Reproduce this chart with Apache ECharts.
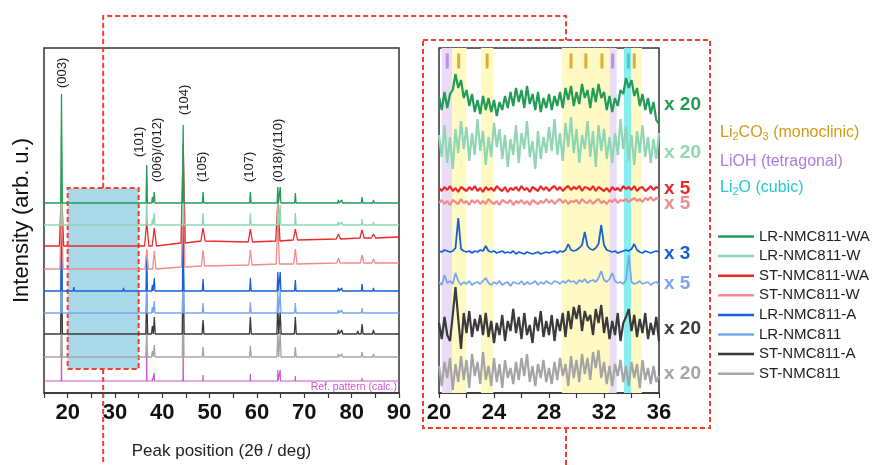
<!DOCTYPE html>
<html>
<head>
<meta charset="utf-8">
<script src="https://cdn.jsdelivr.net/npm/echarts@6/dist/echarts.min.js"></script>
<style>
  html, body { margin: 0; padding: 0; background: #fff; }
  #chart { width: 876px; height: 465px; }
</style>
</head>
<body>
<div id="chart"></div>
<script>
(function () {
  const FONT = '"Liberation Sans", Arial, sans-serif';

  // ---- full pattern (left panel) ----
  const peakPos = [18.7, 21.3, 30.6, 31.8, 33.7, 36.7, 37.9, 38.3, 44.4, 48.6, 58.6, 64.4, 64.9, 68.1, 77.2, 77.9, 81.3, 82.2, 84.6];

  const sampleNames = ['LR-NMC811-WA', 'LR-NMC811-W', 'ST-NMC811-WA', 'ST-NMC811-W',
    'LR-NMC811-A', 'LR-NMC811', 'ST-NMC811-A', 'ST-NMC811'];
  const sampleColors = ['#229c57', '#8fd6b4', '#ea2a2a', '#f28b8b',
    '#1760d8', '#78a6f0', '#3a3a3a', '#a5a5a5'];
  const refColor = '#cc55cc';

  const fullBase = [190, 168, 147, 124, 102, 80, 59, 36];
  const refBase = 12;
  const peakHalfWidth = [0.15, 0.15, 0.45, 0.35, 0.15, 0.15, 0.2, 0.18];

  const hGreenWA = [109, null, null, null, null, 38, 6, 11, 78, 11, 11, 16, 16, 10, 3, 3, 2, 6, 3];
  const hGreenW = [90, null, null, null, null, 30, 6, 12, 80, 12, 12, 22, 20, 12, 3, 3, 2, 6, 3];
  const hRedWA = [60, null, null, null, null, 24, null, 18, 99, 13, 13, 40, null, 11, 5, null, null, 8, 4];
  const hRedW = [60, null, null, null, null, 20, null, 18, 90, 16, 15, 40, null, 15, 5, null, null, 8, 4];
  const hBlueA = [70, 4, 2, 3, null, 40, 6, 13, 80, 12, 13, 19, 19, 11, 3, 3, 2, 7, 3];
  const hBlue = [60, null, null, null, 2, 30, 6, 12, 70, 10, 11, 22, 22, 10, 3, 3, 2, 5, 2];
  const hGreyA = [70, null, null, null, null, 40, 8, 17, 80, 14, 17, 30, 22, 17, 4, 4, 3, 10, 4];
  const hGrey = [60, null, null, null, null, 30, 6, 12, 70, 10, 11, 25, 25, 10, 3, 3, 2, 5, 3];
  const hRef = [40, null, null, null, null, 30, 3, 8, 40, 6, 7, 11, 11, 5, 1.5, 1.5, 1, 3, 1];
  const fullHeights = [hGreenWA, hGreenW, hRedWA, hRedW, hBlueA, hBlue, hGreyA, hGrey];

  // baseline at 15°, at each peak, at 90° (only the drifting ones)
  const baseRedWA = [147, 147, 147, 147, 147, 147, 147, 147, 147, 150, 152, 151, 152, 152, 153, 154, 154, 155, 155, 155, 156];
  const baseRedW = [124, 124, 124, 124, 124, 124, 124, 124, 124, 126, 127, 128, 129, 129, 129, 130, 130, 130, 130, 130, 130];
  const fullDrift = [null, null, baseRedWA, baseRedW, null, null, null, null];

  const hklText = ['(003)', '(101)', '(006)/(012)', '(104)', '(105)', '(107)', '(018)/(110)'];
  const hklX = [18.9, 35.2, 39.0, 44.7, 48.5, 58.5, 64.6];
  const hklY = [305, 236, 211, 278, 211, 211, 211];

  // ---- zoomed region (right panel), 20..36° every 0.2° ----
  const zoomCenter = [291, 250, 204, 191, 141, 110, 66, 21];
  const zoomLabelLevel = [289, 241, 205, 190, 140, 110, 65, 20];
  const zoomMult = ['x 20', 'x 20', 'x 5', 'x 5', 'x 3', 'x 5', 'x 20', 'x 20'];

  const zGreenWA = [
    5, -8, 10, -6, 8, 12, 28, 14, 22, 4,
    12, -4, 8, -10, 2, -12, 6, -8, 4, -10,
    2, -14, 0, -8, 6, -6, 10, -4, 14, 0,
    12, -6, 16, -2, 8, -8, 10, -10, 4, -6,
    8, -8, 6, -4, 10, -6, 14, 2, 16, -4,
    10, -2, 18, 4, 12, -6, 14, 0, 18, 4,
    10, -8, 6, -10, 4, -4, 12, 8, 24, 14,
    22, 6, 14, -4, 8, -8, 4, -12, 0, -18,
    -22];
  const zGreenW = [
    8, -14, 18, -20, 6, -26, 14, -10, 22, -6,
    16, -18, 10, -12, 24, -8, 12, -22, 6, -14,
    20, -4, 14, -16, 8, -24, 4, -12, 18, -20,
    10, -6, 22, -14, 2, -26, 12, -16, 6, -10,
    16, -8, 24, -12, 10, -18, 20, -4, 26, -10,
    14, -20, 8, -6, 22, -14, 12, -24, 18, -8,
    14, -16, 6, -20, 10, -12, 24, -6, 16, -18,
    8, -22, 12, -10, 18, -14, 6, -20, 4, -16,
    10];
  const zRedWA = [
    1, -2, 2, -1, 3, -2, 1, -3, 2, 0,
    -2, 2, -1, 3, -2, 1, -3, 2, -1, 1,
    -2, 3, 0, -2, 2, -3, 1, -1, 2, -2,
    3, -1, 1, -3, 2, 0, -2, 3, -1, 2,
    -2, 1, 3, -1, 2, -2, 1, 3, -1, 2,
    0, 3, -2, 2, 1, -1, 3, -2, 2, 0,
    -2, 1, -3, 2, -1, 1, -2, 3, 0, 2,
    -1, 3, -2, 1, 2, -2, 0, 3, -1, 2,
    1];
  const zRedW = [
    -1, 2, -2, 1, -3, 2, 0, -2, 3, -1,
    1, -3, 2, -1, 2, -2, 1, -2, 3, 0,
    -2, 1, -3, 2, 0, -1, 2, -3, 1, -1,
    2, -2, 1, -3, 2, 0, -2, 1, -1, 3,
    -1, 2, -2, 1, 3, -1, 2, -2, 1, 0,
    2, -2, 3, 0, -1, 2, -2, 1, 3, -1,
    1, -2, 2, 0, 3, -1, 2, 1, 3, 0,
    2, 4, 1, 3, 0, 4, 2, 5, 1, 4,
    3];
  const zBlueA = [
    1, 0, 2, 1, 0, 1, 4, 34, 3, 1,
    0, 1, -1, 1, 0, 2, 1, 6, 1, 0,
    1, -1, 0, 1, -1, 0, -1, 1, -2, 0,
    -1, -2, 0, -1, -2, -1, 0, -2, -1, 0,
    -1, 0, 1, -1, 1, 0, 2, 8, 2, 1,
    2, 4, 7, 20, 6, 3, 2, 4, 8, 27,
    7, 2, 1, 0, 1, -1, 0, 1, 2, 1,
    3, 8, 2, 0, -1, 1, 0, -1, 0, 1,
    0];
  const zBlue = [
    1, -2, 8, 0, 2, -1, 10, 2, -2, 1,
    -1, 2, -2, 0, 1, -1, 2, 5, 0, -2,
    1, -1, 2, -2, 0, 1, -3, 1, 0, -1,
    2, -2, 1, -1, 0, 2, -2, 1, -1, 2,
    0, -1, 2, 1, -1, 2, 0, 3, 1, 2,
    -1, 3, 1, 4, 0, 2, 3, 1, 5, 12,
    3, 1, 4, 10, 2, 0, 1, -1, 3, 28,
    1, -1, 0, 2, -1, 0, 1, -2, 0, 1,
    -1];
  const zGreyA = [
    4, -12, 10, -8, -14, 12, 40, 8, -22, 14,
    -6, 16, -10, 8, -4, 12, -8, 14, -10, 6,
    -16, 4, -8, 12, -14, 6, -4, 18, -6, 10,
    -12, 14, -8, 2, -16, 10, -4, 16, -10, 6,
    -8, 12, -14, 8, -4, 14, -10, 16, -2, 20,
    8, 22, -4, 16, 6, 12, -8, 18, 4, 22,
    -6, 10, -12, 6, -8, 14, -14, 4, 10, 18,
    -4, 12, -10, 8, -6, 14, -12, 4, -8, 10,
    -14];
  const zGrey = [
    6, -14, 10, -6, 14, -18, 8, -10, 16, -8,
    12, -16, 18, -4, 10, -12, 20, -8, 6, -14,
    14, -10, 8, -16, 12, -6, 4, -12, 10, -8,
    14, -4, 18, -10, 6, -14, 8, -6, 12, -10,
    4, -12, 10, -8, 14, -4, 8, -14, 16, -6,
    12, -10, 18, -2, 14, -8, 20, 4, 22, -6,
    10, -12, 6, -14, 8, -4, 12, -10, 6, -14,
    10, -6, 8, -16, 12, -8, 4, -12, 6, -10,
    -4];
  const zoomTraces = [zGreenWA, zGreenW, zRedWA, zRedW, zBlueA, zBlue, zGreyA, zGrey];
  const zoomWidth = [2.2, 2.2, 2.2, 2.2, 1.8, 1.8, 2.2, 2.2];

  // reference phase positions and shaded windows
  const li2co3Pos = [21.43, 23.5, 29.6, 30.68, 31.85, 34.2];
  const liohPos = [20.6, 32.63];
  const li2oPos = [33.77];
  const li2co3Bands = [[20.95, 22.0], [23.05, 23.95], [28.95, 32.4], [33.96, 34.76]];
  const liohBands = [[20.2, 20.95], [32.4, 32.92]];
  const li2oBands = [[33.45, 33.96]];
  const phaseTickLevel = 332;

  const CO3 = '#d49a12';
  const OH = '#b07ae0';
  const O2 = '#22c8d2';

  function buildPattern(base, heights, halfWidth, drift) {
    const pts = [[15, drift ? drift[0] : base]];
    peakPos.forEach((p, i) => {
      const h = heights[i];
      if (h == null) return;
      const b = drift ? drift[i + 1] : base;
      pts.push([p - halfWidth, b], [p, b + h], [p + halfWidth, b]);
    });
    pts.push([90, drift ? drift[drift.length - 1] : base]);
    return pts;
  }

  const chart = echarts.init(document.getElementById('chart'), null, { renderer: 'canvas' });

  const series = [];
  sampleNames.forEach((name, k) => {
    series.push({
      type: 'line',
      name: name,
      xAxisIndex: 0,
      yAxisIndex: 0,
      data: buildPattern(fullBase[k], fullHeights[k], peakHalfWidth[k], fullDrift[k]),
      symbol: 'none',
      z: 10 - k,
      lineStyle: { color: sampleColors[k], width: 1.3 },
      itemStyle: { color: sampleColors[k] },
      animation: false,
    });
  });
  series.push({
    type: 'line',
    name: 'Ref',
    xAxisIndex: 0,
    yAxisIndex: 0,
    data: buildPattern(refBase, hRef, 0.04, null),
    symbol: 'none',
    z: 2,
    lineStyle: { color: refColor, width: 1.2 },
    animation: false,
    markArea: {
      silent: true,
      z: 1,
      itemStyle: {
        color: '#a9d8e9',
        borderColor: '#f2402a',
        borderWidth: 2,
        borderType: [5, 3],
      },
      data: [[{ xAxis: 20, yAxis: 24 }, { xAxis: 35, yAxis: 205 }]],
    },
  });

  // shaded windows in zoom panel
  const bandData = [];
  li2co3Bands.forEach((b) => bandData.push([{ xAxis: b[0], itemStyle: { color: '#fffac4' } }, { xAxis: b[1] }]));
  liohBands.forEach((b) => bandData.push([{ xAxis: b[0], itemStyle: { color: '#e9dcf5' } }, { xAxis: b[1] }]));
  li2oBands.forEach((b) => bandData.push([{ xAxis: b[0], itemStyle: { color: '#86efee' } }, { xAxis: b[1] }]));
  series.push({
    type: 'line',
    name: 'bands',
    xAxisIndex: 1,
    yAxisIndex: 1,
    data: [],
    z: 1,
    markArea: { silent: true, data: bandData },
  });

  sampleNames.forEach((name, k) => {
    const trace = zoomTraces[k];
    series.push({
      type: 'line',
      name: name,
      xAxisIndex: 1,
      yAxisIndex: 1,
      data: trace.map((v, i) => [20 + i * 0.2, zoomCenter[k] + v]),
      symbol: 'none',
      z: 10 - k,
      lineStyle: { color: sampleColors[k], width: zoomWidth[k] },
      itemStyle: { color: sampleColors[k] },
      animation: false,
    });
  });

  function phaseTicks(positions, color) {
    return {
      type: 'scatter',
      xAxisIndex: 1,
      yAxisIndex: 1,
      data: positions.map((p) => [p, phaseTickLevel]),
      symbol: 'rect',
      symbolSize: [3, 15],
      itemStyle: { color: color },
      z: 12,
      silent: true,
      animation: false,
    };
  }
  series.push(phaseTicks(li2co3Pos, CO3), phaseTicks(liohPos, OH), phaseTicks(li2oPos, O2));

  const axisLabelStyle = {
    color: '#111',
    fontSize: 22,
    fontWeight: 'bold',
    fontFamily: FONT,
    margin: 9,
  };

  const option = {
    animation: false,
    backgroundColor: '#fff',
    grid: [
      { left: 44, top: 48, width: 355, height: 345, show: true, borderColor: '#333', borderWidth: 1.5, backgroundColor: 'transparent' },
      { left: 439, top: 48, width: 220, height: 345, show: true, borderColor: '#333', borderWidth: 1.5, backgroundColor: 'transparent' },
    ],
    xAxis: [
      {
        type: 'value',
        gridIndex: 0,
        min: 15,
        max: 90,
        interval: 5,
        axisLine: { lineStyle: { color: '#333', width: 1.5 } },
        axisTick: { length: 5, lineStyle: { color: '#333', width: 1.2 } },
        axisLabel: Object.assign({}, axisLabelStyle, {
          formatter: (v) => (v % 10 === 0 ? String(v) : ''),
        }),
        splitLine: { show: false },
        name: 'Peak position (2\u03B8 / deg)',
        nameLocation: 'middle',
        nameGap: 50,
        nameTextStyle: { fontSize: 17, color: '#222', fontFamily: FONT },
      },
      {
        type: 'value',
        gridIndex: 1,
        min: 20,
        max: 36,
        interval: 2,
        axisLine: { lineStyle: { color: '#333', width: 1.5 } },
        axisTick: { length: 5, lineStyle: { color: '#333', width: 1.2 } },
        axisLabel: Object.assign({}, axisLabelStyle, {
          formatter: (v) => (v % 4 === 0 ? String(v) : ''),
        }),
        splitLine: { show: false },
      },
    ],
    yAxis: [
      {
        type: 'value',
        gridIndex: 0,
        min: 0,
        max: 345,
        axisLine: { show: false },
        axisTick: { show: false },
        axisLabel: { show: false },
        splitLine: { show: false },
        name: 'Intensity (arb. u.)',
        nameLocation: 'middle',
        nameGap: 11,
        nameTextStyle: { fontSize: 22, color: '#111', fontFamily: FONT },
      },
      {
        type: 'value',
        gridIndex: 1,
        min: 0,
        max: 345,
        axisLine: { show: false },
        axisTick: { show: false },
        axisLabel: { show: false },
        splitLine: { show: false },
      },
    ],
    legend: {
      data: sampleNames,
      orient: 'vertical',
      left: 713,
      top: 224,
      icon: 'rect',
      itemWidth: 36,
      itemHeight: 2.5,
      itemGap: 4.6,
      textStyle: { fontSize: 15, color: '#222', fontFamily: FONT, padding: [1, 0, 0, 0] },
      selectedMode: false,
    },
    series: series,
  };

  chart.setOption(option);

  // annotations placed through the axes
  const graphics = [];
  hklText.forEach((t, i) => {
    const p = chart.convertToPixel({ gridIndex: 0 }, [hklX[i], hklY[i]]);
    graphics.push({
      type: 'text',
      x: p[0],
      y: p[1],
      rotation: Math.PI / 2,
      style: {
        text: t,
        fill: '#222',
        font: '13px ' + FONT,
        textAlign: 'left',
        textVerticalAlign: 'middle',
      },
    });
  });

  zoomMult.forEach((t, k) => {
    const p = chart.convertToPixel({ gridIndex: 1 }, [36, zoomLabelLevel[k]]);
    graphics.push({
      type: 'text',
      x: p[0] + 5,
      y: p[1] + 1,
      style: {
        text: t,
        fill: sampleColors[k],
        font: 'bold 19px ' + FONT,
        textAlign: 'left',
        textVerticalAlign: 'middle',
      },
    });
  });

  const refPt = chart.convertToPixel({ gridIndex: 0 }, [90, 6]);
  graphics.push({
    type: 'text',
    x: refPt[0] - 2,
    y: refPt[1],
    style: {
      text: 'Ref. pattern (calc.)',
      fill: refColor,
      font: '10.5px ' + FONT,
      textAlign: 'right',
      textVerticalAlign: 'middle',
    },
  });

  [
    ['Li{sub|2}CO{sub|3} (monoclinic)', CO3, 133],
    ['LiOH (tetragonal)', OH, 162],
    ['Li{sub|2}O (cubic)', O2, 188],
  ].forEach((row) => {
    graphics.push({
      type: 'text',
      x: 720,
      y: row[2],
      style: {
        text: row[0],
        fill: row[1],
        font: '16px ' + FONT,
        textVerticalAlign: 'middle',
        rich: {
          sub: { fill: row[1], font: '11px ' + FONT, padding: [8, 0, 0, 0] },
        },
      },
    });
  });

  // magnifier connectors
  const boxTop = chart.convertToPixel({ gridIndex: 0 }, [27.5, 205]);
  const boxBottom = chart.convertToPixel({ gridIndex: 0 }, [27.5, 24]);
  const dash = { stroke: '#f2402a', lineWidth: 2, lineDash: [5, 3], fill: null };
  graphics.push(
    { type: 'polyline', shape: { points: [[boxTop[0], boxTop[1]], [boxTop[0], 16], [566, 16], [566, 40]] }, style: dash, silent: true },
    { type: 'polyline', shape: { points: [[boxBottom[0], boxBottom[1]], [boxBottom[0], 465]] }, style: dash, silent: true },
    { type: 'polyline', shape: { points: [[566, 428], [566, 465]] }, style: dash, silent: true },
    { type: 'rect', shape: { x: 423, y: 40, width: 287, height: 388 }, style: dash, silent: true }
  );

  chart.setOption({ graphic: graphics });

  window.addEventListener('resize', () => {
    chart.resize();
  });
})();
</script>
</body>
</html>
